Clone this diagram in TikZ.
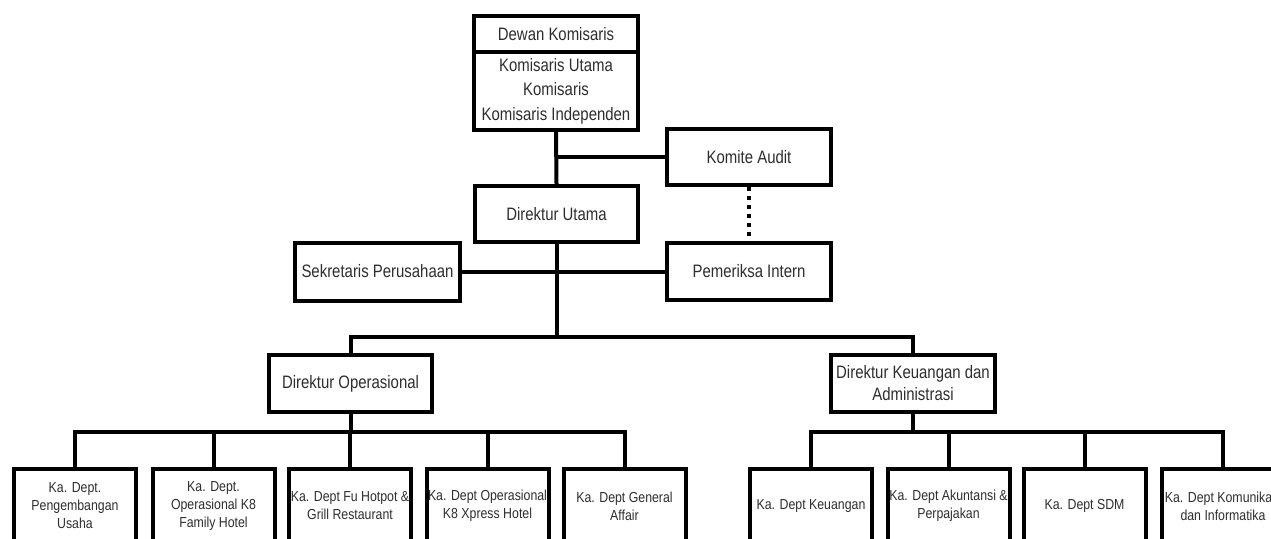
\documentclass[tikz,border=0pt]{standalone}
\usepackage{fontspec}
\newfontfamily\orgfont[FakeStretch=0.83]{Liberation Sans}
\newfontfamily\deptfont[FakeStretch=0.85]{Liberation Sans}
\begin{document}
\begin{tikzpicture}[x=1pt,y=-1pt,
  box/.style={draw=black, line width=4pt, fill=white, inner sep=0pt, align=center,
    text=black!82, font=\orgfont\fontsize{18}{22}\selectfont},
  bigbox/.style={box, minimum width=164pt, minimum height=57pt},
  dept/.style={box, minimum width=122pt, minimum height=74pt,
    font=\deptfont\fontsize{14.5}{18}\selectfont},
  conn/.style={draw=black, line width=4pt, line join=miter},
  dotline/.style={draw=black, line width=3.5pt, dash pattern=on 4pt off 5pt}]
\clip (0,0) rectangle (1271,538);
\fill[white] (0,0) rectangle (1271,538);
% top
\node[box, minimum width=164pt, minimum height=36pt] (dewan) at (556,34) {Dewan Komisaris};
\node[box, minimum width=164pt, minimum height=78pt, font=\orgfont\fontsize{18}{24.5}\selectfont] (kom) at (556,91) {Komisaris Utama\\Komisaris\\Komisaris Independen};
\node[bigbox, minimum width=163pt, minimum height=56pt] (du) at (556.5,214) {Direktur Utama};
\node[bigbox, minimum height=56pt] (ka) at (749,157) {Komite Audit};
\node[bigbox, minimum width=165pt, minimum height=58pt] (sek) at (377.5,271.5) {Sekretaris Perusahaan};
\node[bigbox] (pi) at (749,271.5) {Pemeriksa Intern};
\node[bigbox, minimum width=163pt] (dop) at (350.5,383.5) {Direktur Operasional};
\node[bigbox] (dkeu) at (913,383.5) {Direktur Keuangan dan\\Administrasi};
% departments
\node[dept] (c1) at (75,506) {Ka. Dept.\\Pengembangan\\Usaha};
\node[dept] (c2) at (213.5,506) {Ka. Dept.\\Operasional K8\\Family Hotel};
\node[dept] (c3) at (350,506) {Ka. Dept Fu Hotpot \&\\Grill Restaurant};
\node[dept] (c4) at (487.5,506) {Ka. Dept Operasional\\K8 Xpress Hotel};
\node[dept] (c5) at (624.5,506) {Ka. Dept General\\Affair};
\node[dept] (d1) at (811,506) {Ka. Dept Keuangan};
\node[dept] (d2) at (948.5,506) {Ka. Dept Akuntansi \&\\Perpajakan};
\node[dept] (d3) at (1084.5,506) {Ka. Dept SDM};
\node[dept] (d4) at (1223,506) {Ka. Dept Komunikasi\\dan Informatika};
% junctions
\coordinate (jmain) at (557,337);
\coordinate (jop) at (350.5,432);
\coordinate (jkeu) at (913,432);
% connectors
\draw[conn] (kom.south) -- (du.north);
\draw[conn] (ka.west) -- (ka.west -| kom.south);
\draw[dotline] (ka.south) -- (pi.north);
\draw[conn] (sek.east) -- (pi.west);
\draw[conn] (du.south) -- (du.south |- jmain);
\draw[conn] (dop.north) |- (jmain) -| (dkeu.north);
\draw[conn] (dop.south) -- (jop);
\draw[conn] (c1.north) |- (jop) -| (c5.north);
\draw[conn] (c2.north) -- (c2.north |- jop);
\draw[conn] (c3.north) -- (c3.north |- jop);
\draw[conn] (c4.north) -- (c4.north |- jop);
\draw[conn] (dkeu.south) -- (jkeu);
\draw[conn] (d1.north) |- (jkeu) -| (d4.north);
\draw[conn] (d2.north) -- (d2.north |- jkeu);
\draw[conn] (d3.north) -- (d3.north |- jkeu);
\end{tikzpicture}
\end{document}
